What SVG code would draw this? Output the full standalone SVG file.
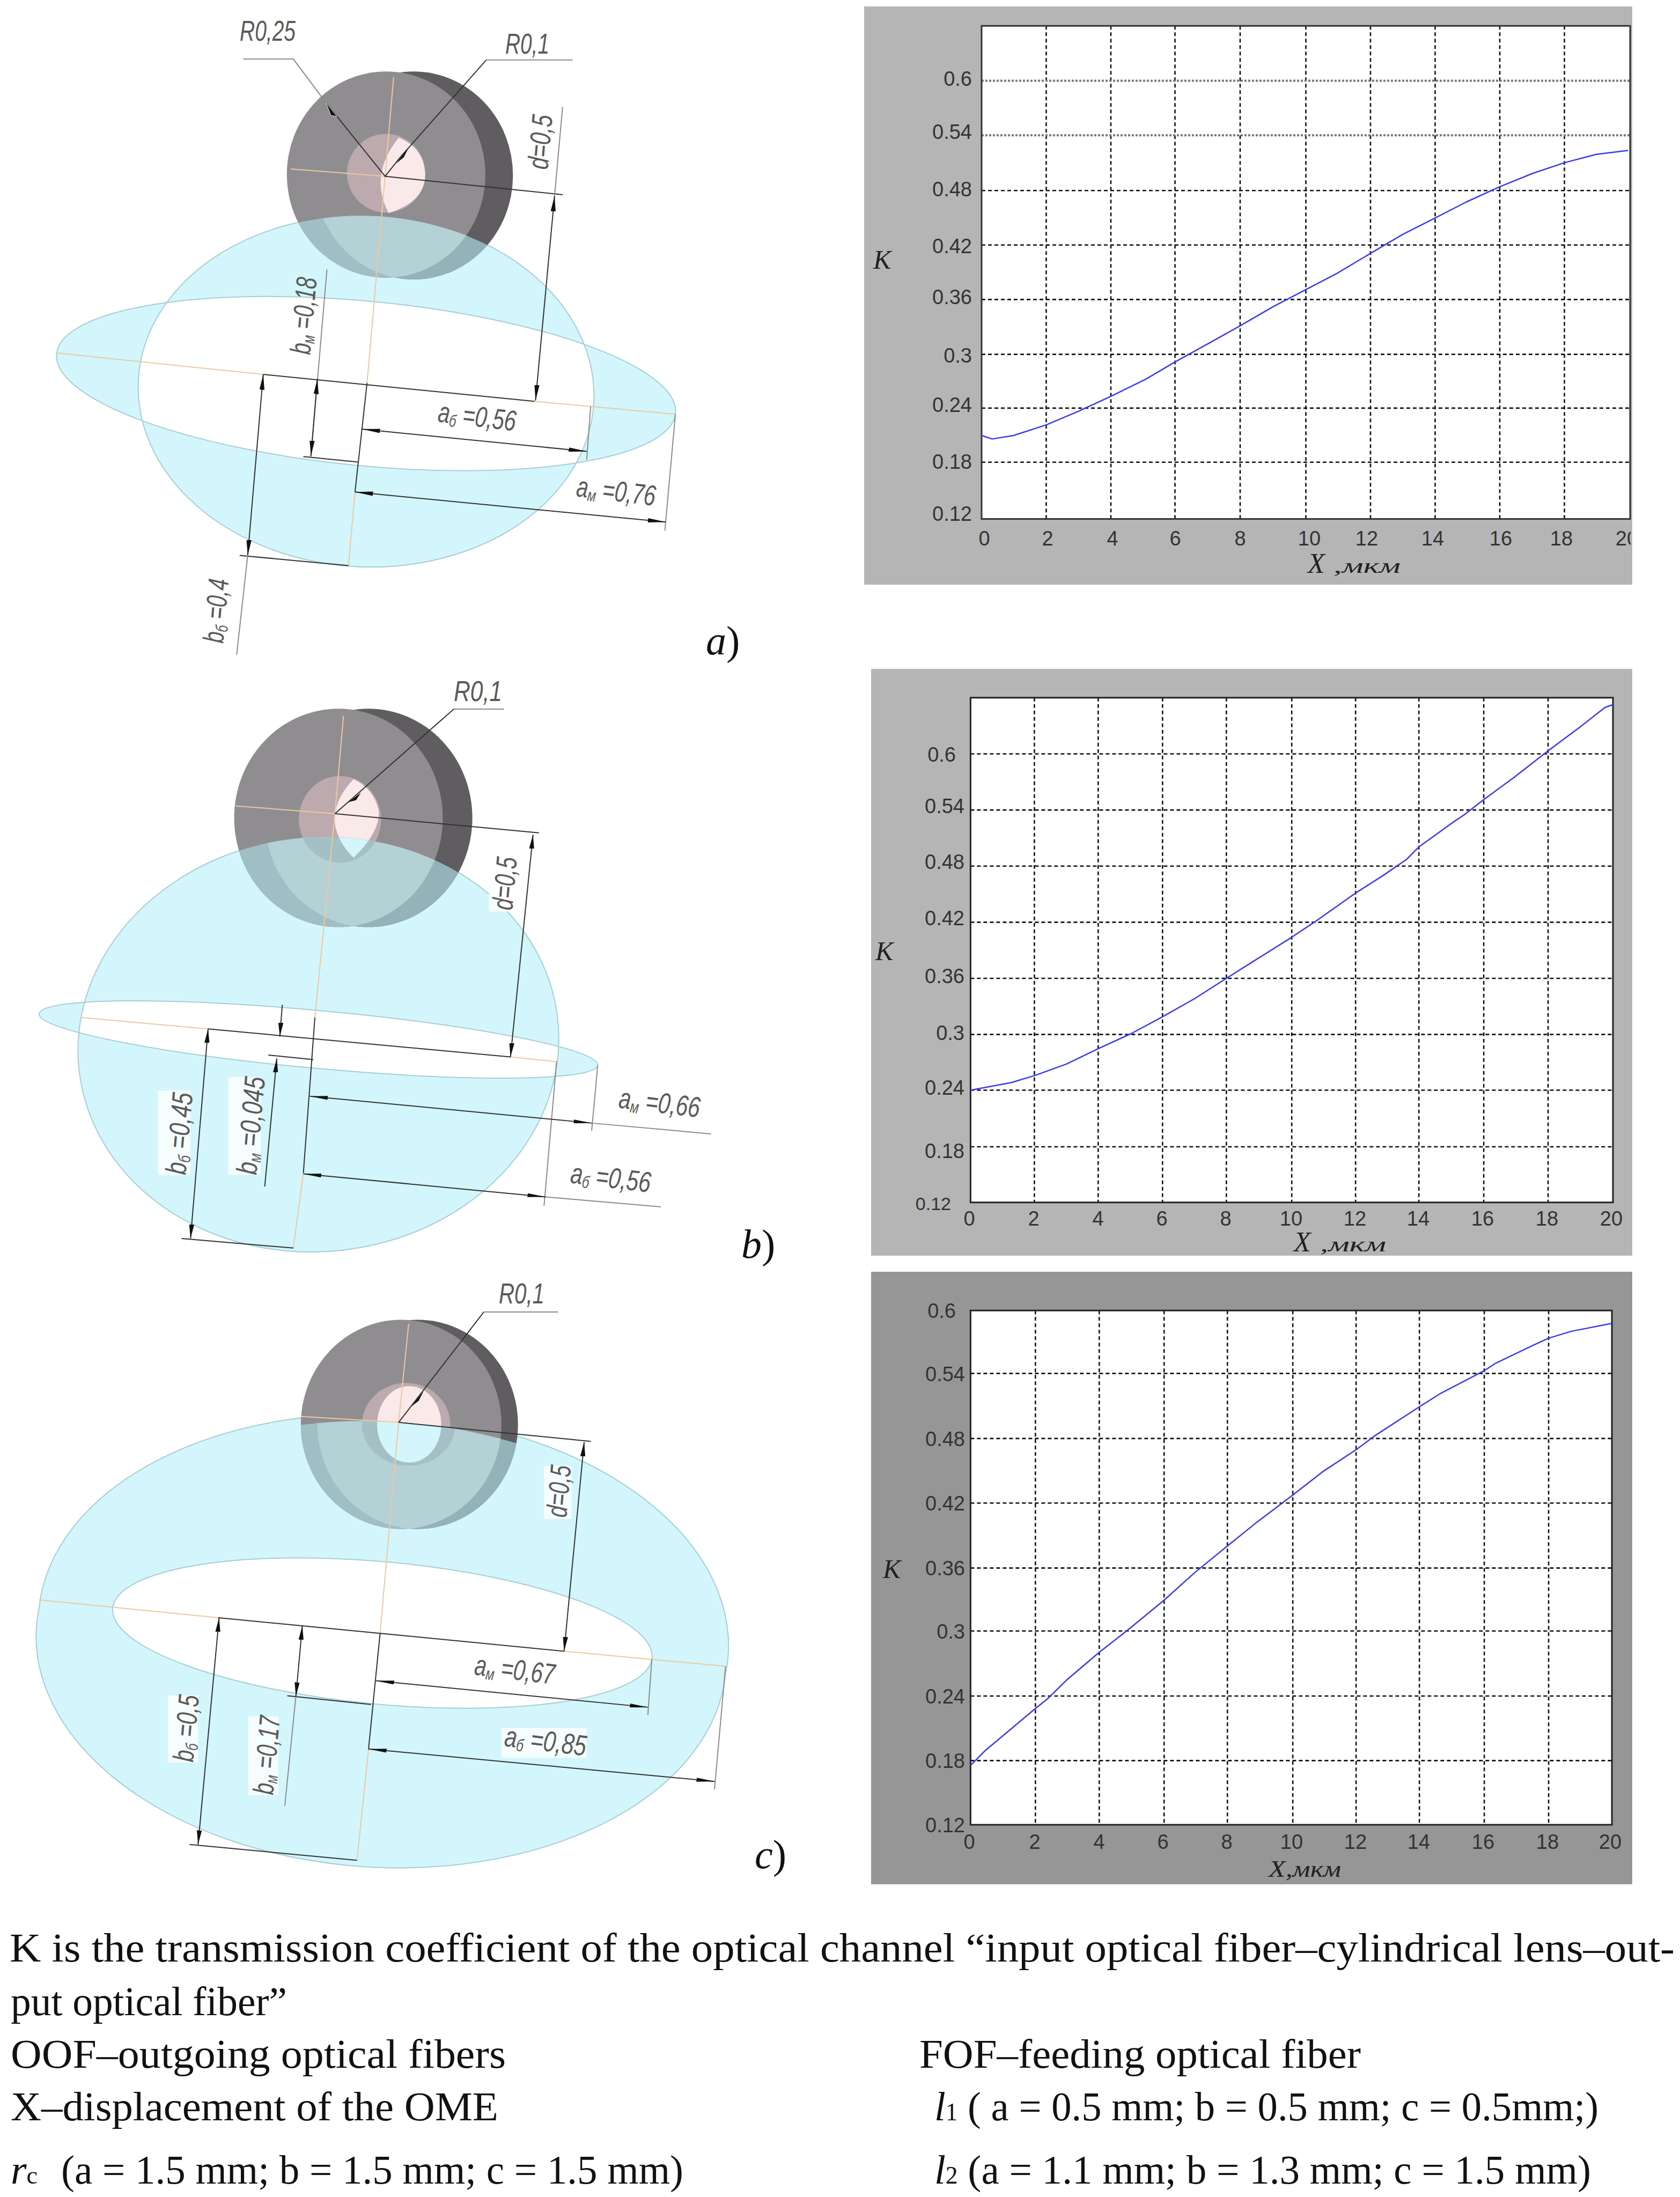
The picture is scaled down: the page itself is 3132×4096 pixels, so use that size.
<svg xmlns="http://www.w3.org/2000/svg" width="3132" height="4096" viewBox="0 0 3132 4096">
<style>
.c{fill:#d2f6fb;fill-rule:evenodd;stroke:#a8cdd2;stroke-width:2;vector-effect:non-scaling-stroke}
.d,.g,.o,.a,.t,.p,.k{fill:none;vector-effect:non-scaling-stroke}
.d,.a{stroke:#333;stroke-width:2}
.g{stroke:#8c8c8c;stroke-width:2}
.o{stroke:#ecc9a0;stroke-width:2}
.a{marker-start:url(#h);marker-end:url(#h)}
.t{stroke:#111;stroke-width:2.6;stroke-dasharray:7 5}
.k{stroke:#222;stroke-width:3}
.p{stroke:#3a3aee;stroke-width:2.5;stroke-linejoin:round}
.l{font-family:"Liberation Sans",sans-serif;font-style:italic;font-size:54px;fill:#5a5a5a}
.s{font-size:32px}
.n{font-family:"Liberation Sans",sans-serif;font-size:38px;fill:#333;text-anchor:end}
.x{font-family:"Liberation Sans",sans-serif;font-size:38px;fill:#333;text-anchor:middle}
.v{font-family:"Liberation Serif",serif;font-style:italic;fill:#222}
.m{font-family:"Liberation Serif",serif;font-size:76px;fill:#111}
.i{font-style:italic}
.u{font-size:46px}
</style>
<defs>
<marker id="h" markerUnits="userSpaceOnUse" viewBox="0 0 36 10" refX="36" refY="5" markerWidth="36" markerHeight="10" orient="auto-start-reverse"><path d="M36 5L0 0V10Z" fill="#111"/></marker>
<clipPath id="ca"><ellipse cx="730" cy="915" rx="455" ry="410" transform="rotate(6.6 730 915)"/></clipPath>
<clipPath id="fa"><ellipse cx="770" cy="408" rx="198" ry="241"/></clipPath>
<clipPath id="cb"><ellipse cx="635" cy="985" rx="478" ry="540" transform="rotate(6.9 635 985)"/></clipPath>
<clipPath id="fb"><ellipse cx="675" cy="396" rx="208" ry="284"/></clipPath>
<clipPath id="cc"><ellipse cx="762" cy="944" rx="690" ry="555" transform="rotate(7 762 944)"/></clipPath>
<clipPath id="fc"><ellipse cx="800" cy="395" rx="200" ry="265"/></clipPath>
<clipPath id="e20"><rect x="1800" y="960" width="1240" height="80"/></clipPath>
</defs>
<rect width="3132" height="4096" fill="#fff"/>

<g id="lens-a" transform="scale(.9348,.7977)">
<path class="c" d="M278 862A455 410 6.6 1 1 1182 967A455 410 6.6 1 1 278 862ZM113 825A621 192 6.6 1 1 1347 968A621 192 6.6 1 1 113 825Z"/>
<ellipse cx="825" cy="410" rx="198" ry="243" fill="#5f5d60"/>
<ellipse cx="770" cy="408" rx="198" ry="241" fill="#908d90"/>
<ellipse cx="770" cy="405" rx="78" ry="92" fill="#bcaaae"/>
<path d="M795 322Q735 410 775 498Q850 470 848 405Q845 345 795 322Z" fill="#f9e9e9"/>
<g clip-path="url(#ca)">
<ellipse cx="825" cy="410" rx="198" ry="243" fill="#93b3b8"/>
<ellipse cx="770" cy="408" rx="198" ry="241" fill="#a0bfc4"/>
<g clip-path="url(#fa)"><ellipse cx="825" cy="410" rx="198" ry="243" fill="#b4d1d6"/></g>
</g>
<path class="o" d="M113 825L525 875M1066 938L1347 968M580 395L768 412M785 180L768 412L732 895M708 1150L695 1322"/>
<path class="d" d="M525 875L1066 938M768 412L1122 455M732 895L708 1150M605 1067L715 1080M478 1298L695 1322M650 240L768 412L800 365L970 140"/>
<path class="g" d="M485 138H585L650 240M970 140H1142M1106 458L1122 250M620 1068L652 630M1178 950L1170 1075M1347 968L1326 1240M494 1298L472 1530"/>
<path class="a" d="M1106 458L1068 936"/>
<path class="a" d="M633 885L620 1066"/>
<path class="a" d="M525 875L494 1298"/>
<path class="a" d="M722 1003L1170 1055"/>
<path class="a" d="M708 1150L1328 1220"/>
<path fill="#111" stroke="#fff" d="M650 240L672 272L660 270Z"/>
<path fill="#111" d="M790 382L815 345L805 368Z"/>
</g>
<g id="labels-a">
<text class="l" x="447" y="76" textLength="104" lengthAdjust="spacingAndGlyphs">R0,25</text>
<text class="l" x="942" y="100" textLength="82" lengthAdjust="spacingAndGlyphs">R0,1</text>
<text class="l" transform="translate(1021 317) rotate(-85)" textLength="102" lengthAdjust="spacingAndGlyphs">d=0,5</text>
<text class="l" transform="translate(578 662) rotate(-85)" textLength="144" lengthAdjust="spacingAndGlyphs">b<tspan class="s" dy="6">м</tspan><tspan dy="-6"> =0,18</tspan></text>
<text class="l" transform="translate(815 786) rotate(7)" textLength="146" lengthAdjust="spacingAndGlyphs">a<tspan class="s" dy="6">б</tspan><tspan dy="-6"> =0,56</tspan></text>
<text class="l" transform="translate(1073 925) rotate(7)" textLength="148" lengthAdjust="spacingAndGlyphs">a<tspan class="s" dy="6">м</tspan><tspan dy="-6"> =0,76</tspan></text>
<text class="l" transform="translate(416 1200) rotate(-85)" textLength="120" lengthAdjust="spacingAndGlyphs">b<tspan class="s" dy="6">б</tspan><tspan dy="-6"> =0,4</tspan></text>
<text class="m i" x="1316" y="1220">a<tspan font-style="normal">)</tspan></text>
</g>

<g id="chart-a">
<rect x="1611" y="12" width="1432" height="1078" fill="#b5b5b5"/>
<g transform="translate(1583 0) scale(.9878 .7104)">
<rect x="250" y="68" width="1224" height="1294" fill="#fff"/>
<path class="t" d="M372 68V1362M494 68V1362M615 68V1362M738 68V1362M862 68V1362M984 68V1362M1106 68V1362M1228 68V1362M1350 68V1362M250 500H1474M250 643H1474M250 786H1474M250 930H1474M250 1071H1474M250 1213H1474"/>
<path class="t" style="stroke:#777;stroke-width:4;stroke-dasharray:4 3" d="M250 212H1474M250 355H1474"/>
<path class="k" style="stroke:#333" d="M250 68H1474V1362H250Z"/>
<polyline class="p" points="250,1143 270,1152 310,1143 372,1115 435,1078 494,1040 560,995 615,950 680,900 738,855 800,805 862,760 920,718 984,665 1045,615 1106,572 1165,530 1228,490 1290,455 1350,427 1410,405 1470,395"/>
</g>
<g>
<text class="n" x="1812" y="160">0.6</text><text class="n" x="1812" y="259">0.54</text><text class="n" x="1812" y="366">0.48</text><text class="n" x="1812" y="472">0.42</text><text class="n" x="1812" y="567">0.36</text><text class="n" x="1812" y="676">0.3</text><text class="n" x="1812" y="768">0.24</text><text class="n" x="1812" y="874">0.18</text><text class="n" x="1812" y="971">0.12</text>
<text class="x" x="1835" y="1017">0</text><text class="x" x="1953" y="1017">2</text><text class="x" x="2074" y="1017">4</text><text class="x" x="2191" y="1017">6</text><text class="x" x="2312" y="1017">8</text><text class="x" x="2441" y="1017">10</text><text class="x" x="2548" y="1017">12</text><text class="x" x="2671" y="1017">14</text><text class="x" x="2798" y="1017">16</text><text class="x" x="2911" y="1017">18</text>
<text class="x" x="3033" y="1017" clip-path="url(#e20)">20</text>
<text class="v" x="1628" y="501" font-size="50">K</text>
<text class="v" x="2438" y="1068" font-size="52">X</text>
<text class="v" x="2486" y="1068" font-size="38" textLength="125" lengthAdjust="spacingAndGlyphs">,мкм</text>
</g>
</g>

<g id="lens-b" transform="translate(0 1241) scale(.9348 .7167)">
<path class="c" d="M160 928A478 540 6.9 1 1 1110 1043A478 540 6.9 1 1 160 928ZM78 905A561 75 6.9 1 1 1192 1040A561 75 6.9 1 1 78 905Z"/>
<ellipse cx="735" cy="396" rx="207" ry="284" fill="#5f5d60"/>
<ellipse cx="675" cy="396" rx="208" ry="284" fill="#908d90"/>
<ellipse cx="678" cy="400" rx="82" ry="113" fill="#bcaaae"/>
<path d="M705 295Q630 400 705 500Q760 430 755 375Q745 320 705 295Z" fill="#f9e9e9"/>
<g clip-path="url(#cb)">
<ellipse cx="735" cy="396" rx="207" ry="284" fill="#93b3b8"/>
<ellipse cx="675" cy="396" rx="208" ry="284" fill="#a0bfc4"/>
<g clip-path="url(#fb)"><ellipse cx="735" cy="396" rx="207" ry="284" fill="#b4d1d6"/></g>
<ellipse cx="678" cy="400" rx="82" ry="113" fill="#a4c0c5"/>
<path d="M705 295Q630 400 705 500Q760 430 755 375Q745 320 705 295Z" fill="#d2f6fb"/>
</g>
<path class="o" d="M160 915L415 945M1018 1018L1110 1030M470 365L668 385M685 130L668 385L628 915M605 1320L585 1515"/>
<path class="d" d="M415 945L1018 1018M668 385L1075 435M628 915L605 1320M535 1013L625 1025M362 1490L585 1515M668 385L905 113"/>
<path class="g" d="M905 113H1005M1180 1190L1418 1218M1088 1382L1318 1408M1192 1040L1180 1210M1110 1030L1085 1405"/>
<path class="a" d="M1063 440L1018 1018"/>
<path class="a" d="M415 945L380 1490"/>
<path class="a" d="M618 1120L1180 1190"/>
<path class="a" d="M605 1322L1088 1382"/>
<path class="d" style="marker-end:url(#h)" d="M563 882L558 965"/>
<path class="d" style="marker-end:url(#h)" d="M528 1355L552 1022"/>
<path fill="#111" d="M695 355L720 330L710 350Z"/>
<rect x="315" y="1105" width="65" height="220" fill="#fff" fill-opacity=".8"/>
<rect x="455" y="1070" width="65" height="255" fill="#fff" fill-opacity=".8"/>
<rect x="975" y="500" width="55" height="140" fill="#fff" fill-opacity=".8"/>
</g>
<g id="labels-b">
<text class="l" x="846" y="1307" textLength="90" lengthAdjust="spacingAndGlyphs">R0,1</text>
<text class="l" transform="translate(955 1698) rotate(-85)" textLength="99" lengthAdjust="spacingAndGlyphs">d=0,5</text>
<text class="l" transform="translate(346 2191) rotate(-85)" textLength="153" lengthAdjust="spacingAndGlyphs">b<tspan class="s" dy="6">б</tspan><tspan dy="-6"> =0,45</tspan></text>
<text class="l" transform="translate(478 2191) rotate(-85)" textLength="183" lengthAdjust="spacingAndGlyphs">b<tspan class="s" dy="6">м</tspan><tspan dy="-6"> =0,045</tspan></text>
<text class="l" transform="translate(1152 2065) rotate(7)" textLength="152" lengthAdjust="spacingAndGlyphs">a<tspan class="s" dy="6">м</tspan><tspan dy="-6"> =0,66</tspan></text>
<text class="l" transform="translate(1062 2205) rotate(7)" textLength="150" lengthAdjust="spacingAndGlyphs">a<tspan class="s" dy="6">б</tspan><tspan dy="-6"> =0,56</tspan></text>
<text class="m i" x="1382" y="2345">b<tspan font-style="normal">)</tspan></text>
</g>

<g id="chart-b">
<rect x="1624" y="1247" width="1419" height="1094" fill="#b5b5b5"/>
<g transform="translate(1602.6 1231.3) scale(.9753 .7167)">
<rect x="212" y="97" width="1228" height="1313" fill="#fff"/>
<path class="t" d="M334 97V1410M456 97V1410M579 97V1410M701 97V1410M826 97V1410M948 97V1410M1069 97V1410M1193 97V1410M1316 97V1410M212 243H1440M212 389H1440M212 535H1440M212 681H1440M212 827H1440M212 973H1440M212 1118H1440M212 1265H1440"/>
<path class="k" d="M212 97H1440V1410H212Z"/>
<polyline class="p" points="212,1118 290,1098 334,1080 395,1050 456,1010 520,970 579,927 640,880 701,827 750,785 826,720 870,680 948,605 1000,560 1045,518 1069,485 1130,425 1155,402 1193,362 1250,305 1316,235 1380,170 1425,122 1440,115"/>
</g>
<text class="n" x="1782" y="1420">0.6</text><text class="n" x="1798" y="1516">0.54</text><text class="n" x="1798" y="1620">0.48</text><text class="n" x="1798" y="1725">0.42</text><text class="n" x="1798" y="1833">0.36</text><text class="n" x="1798" y="1939">0.3</text><text class="n" x="1798" y="2041">0.24</text><text class="n" x="1798" y="2159">0.18</text><text class="n" x="1773" y="2256" style="font-size:34px">0.12</text>
<text class="x" x="1807" y="2285">0</text><text class="x" x="1927" y="2285">2</text><text class="x" x="2047" y="2285">4</text><text class="x" x="2166" y="2285">6</text><text class="x" x="2285" y="2285">8</text><text class="x" x="2407" y="2285">10</text><text class="x" x="2526" y="2285">12</text><text class="x" x="2644" y="2285">14</text><text class="x" x="2764" y="2285">16</text><text class="x" x="2884" y="2285">18</text><text class="x" x="3004" y="2285">20</text>
<text class="v" x="1632" y="1790" font-size="50">K</text>
<text class="v" x="2412" y="2333" font-size="52">X</text>
<text class="v" x="2461" y="2333" font-size="38" textLength="123" lengthAdjust="spacingAndGlyphs">,мкм</text>
</g>

<g id="lens-c" transform="translate(0 2365) scale(.9348 .7355)">
<path class="c" d="M78 860A690 555 7 1 1 1447 1028A690 555 7 1 1 78 860ZM225 858A541 180 7 1 1 1300 990A541 180 7 1 1 225 858Z"/>
<ellipse cx="833" cy="395" rx="200" ry="265" fill="#5f5d60"/>
<ellipse cx="800" cy="395" rx="200" ry="265" fill="#908d90"/>
<ellipse cx="810" cy="395" rx="88" ry="105" fill="#bcaaae"/>
<ellipse cx="816" cy="395" rx="64" ry="97" fill="#f9e9e9"/>
<g clip-path="url(#cc)">
<ellipse cx="833" cy="395" rx="200" ry="265" fill="#93b3b8"/>
<ellipse cx="800" cy="395" rx="200" ry="265" fill="#a0bfc4"/>
<g clip-path="url(#fc)"><ellipse cx="833" cy="395" rx="200" ry="265" fill="#b4d1d6"/></g>
<ellipse cx="815" cy="395" rx="93" ry="105" fill="#a4c0c5"/>
<ellipse cx="816" cy="395" rx="64" ry="97" fill="#d2f6fb"/>
</g>
<path class="o" d="M78 840L435 885M1125 970L1447 1008M600 375L795 390M815 140L795 390L758 925M735 1218L712 1500"/>
<path class="d" d="M435 885L1125 970M795 390L1178 438M758 925L735 1218M573 1083L740 1105M378 1460L712 1500M795 390L965 110"/>
<path class="g" d="M965 110H1113M590 1085L568 1362M1300 990L1292 1132M1447 1008L1425 1320"/>
<path class="a" d="M1165 440L1125 970"/>
<path class="a" d="M603 905L590 1085"/>
<path class="a" d="M437 885L395 1460"/>
<path class="a" d="M750 1045L1292 1112"/>
<path class="a" d="M735 1218L1425 1300"/>
<path fill="#111" d="M820 350L845 310L835 335Z"/>
<rect x="1085" y="500" width="55" height="135" fill="#fff" fill-opacity=".8"/>
<rect x="335" y="1082" width="60" height="170" fill="#fff" fill-opacity=".8"/>
<rect x="495" y="1135" width="60" height="200" fill="#fff" fill-opacity=".8"/>
<rect x="1000" y="1165" width="170" height="75" fill="#fff" fill-opacity=".8"/>
</g>
<g id="labels-c">
<text class="l" x="930" y="2430" textLength="85" lengthAdjust="spacingAndGlyphs">R0,1</text>
<text class="l" transform="translate(1056 2830) rotate(-85)" textLength="97" lengthAdjust="spacingAndGlyphs">d=0,5</text>
<text class="l" transform="translate(360 3286) rotate(-85)" textLength="125" lengthAdjust="spacingAndGlyphs">b<tspan class="s" dy="6">б</tspan><tspan dy="-6"> =0,5</tspan></text>
<text class="l" transform="translate(509 3347) rotate(-85)" textLength="147" lengthAdjust="spacingAndGlyphs">b<tspan class="s" dy="6">м</tspan><tspan dy="-6"> =0,17</tspan></text>
<text class="l" transform="translate(883 3122) rotate(7)" textLength="150" lengthAdjust="spacingAndGlyphs">a<tspan class="s" dy="6">м</tspan><tspan dy="-6"> =0,67</tspan></text>
<text class="l" transform="translate(939 3255) rotate(7)" textLength="153" lengthAdjust="spacingAndGlyphs">a<tspan class="s" dy="6">б</tspan><tspan dy="-6"> =0,85</tspan></text>
<text class="m i" x="1407" y="3483">c<tspan font-style="normal">)</tspan></text>
</g>

<g id="chart-c">
<rect x="1624" y="2371" width="1419" height="1142" fill="#969696"/>
<g transform="translate(1602.6 2355) scale(.9753 .7479)">
<rect x="212" y="118" width="1226" height="1282" fill="#fff"/>
<path class="t" d="M336 118V1400M458 118V1400M582 118V1400M703 118V1400M828 118V1400M949 118V1400M1070 118V1400M1194 118V1400M1317 118V1400M212 275H1438M212 437H1438M212 598H1438M212 760H1438M212 917H1438M212 1079H1438M212 1240H1438"/>
<path class="k" d="M212 118H1438V1400H212Z"/>
<polyline class="p" points="212,1252 240,1215 336,1110 360,1085 395,1040 458,970 515,912 582,840 640,772 703,705 760,645 828,578 885,520 949,465 985,430 1070,358 1110,325 1194,268 1215,250 1290,203 1317,187 1360,170 1438,150"/>
</g>
<text class="n" x="1782" y="2457">0.6</text><text class="n" x="1799" y="2575">0.54</text><text class="n" x="1799" y="2696">0.48</text><text class="n" x="1799" y="2816">0.42</text><text class="n" x="1799" y="2937">0.36</text><text class="n" x="1799" y="3055">0.3</text><text class="n" x="1799" y="3176">0.24</text><text class="n" x="1799" y="3296">0.18</text><text class="n" x="1799" y="3416">0.12</text>
<text class="x" x="1807" y="3447">0</text><text class="x" x="1929" y="3447">2</text><text class="x" x="2049" y="3447">4</text><text class="x" x="2168" y="3447">6</text><text class="x" x="2287" y="3447">8</text><text class="x" x="2408" y="3447">10</text><text class="x" x="2527" y="3447">12</text><text class="x" x="2645" y="3447">14</text><text class="x" x="2765" y="3447">16</text><text class="x" x="2885" y="3447">18</text><text class="x" x="3002" y="3447">20</text>
<text class="v" x="1646" y="2942" font-size="50">K</text>
<text class="v" x="2365" y="3499" font-size="44" textLength="135" lengthAdjust="spacingAndGlyphs">X,мкм</text>
</g>

<g id="caption">
<text class="m" x="18" y="3657" textLength="3104" lengthAdjust="spacingAndGlyphs">K is the transmission coefficient of the optical channel “input optical fiber–cylindrical lens–out-</text>
<text class="m" x="20" y="3757" textLength="515" lengthAdjust="spacingAndGlyphs">put optical fiber”</text>
<text class="m" x="20" y="3855" textLength="923" lengthAdjust="spacingAndGlyphs">OOF–outgoing optical fibers</text>
<text class="m" x="1714" y="3855" textLength="823" lengthAdjust="spacingAndGlyphs">FOF–feeding optical fiber</text>
<text class="m" x="20" y="3953" textLength="909" lengthAdjust="spacingAndGlyphs">X–displacement of the OME</text>
<text class="m" x="1742" y="3953" textLength="1238" lengthAdjust="spacingAndGlyphs"><tspan class="i">l</tspan><tspan class="u">1</tspan> ( a = 0.5 mm; b = 0.5 mm; c = 0.5mm;)</text>
<text class="m" x="20" y="4071"><tspan class="i">r</tspan><tspan class="u">c</tspan></text>
<text class="m" x="114" y="4071" textLength="1160" lengthAdjust="spacingAndGlyphs">(a = 1.5 mm; b = 1.5 mm; c = 1.5 mm)</text>
<text class="m" x="1742" y="4071" textLength="1224" lengthAdjust="spacingAndGlyphs"><tspan class="i">l</tspan><tspan class="u">2</tspan> (a = 1.1 mm; b = 1.3 mm; c = 1.5 mm)</text>
</g>
</svg>
